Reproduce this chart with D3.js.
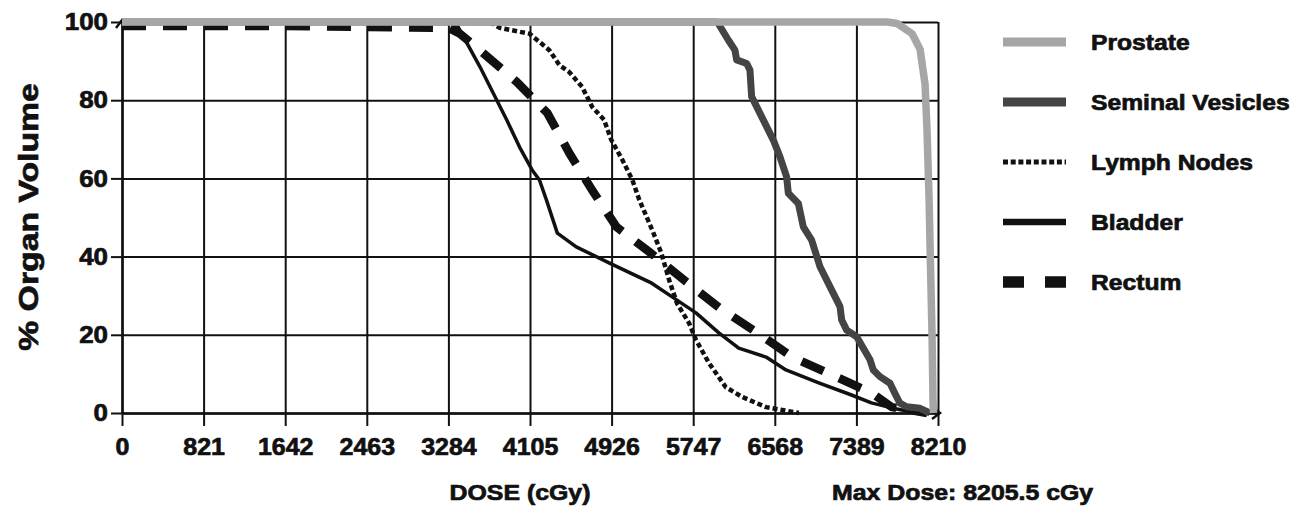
<!DOCTYPE html>
<html>
<head>
<meta charset="utf-8">
<script src="https://cdn.jsdelivr.net/npm/d3@7"></script>
<style>
  html, body { margin: 0; padding: 0; background: #fff; }
  svg { display: block; }
  text { font-family: "Liberation Sans", Arial, Helvetica, sans-serif; font-weight: bold; fill: #111; stroke: #111; stroke-width: 0.7px; }
</style>
</head>
<body>
<svg id="chart" width="1302" height="513"></svg>
<script>
// ---------------- DATA ----------------
const seriesNames = ["Prostate", "Seminal Vesicles", "Lymph Nodes", "Bladder", "Rectum"];

const xTickValues = [0, 821, 1642, 2463, 3284, 4105, 4926, 5747, 6568, 7389, 8210];
const xTickLabels = ["0", "821", "1642", "2463", "3284", "4105", "4926", "5747", "6568", "7389", "8210"];
const yTickValues = [0, 20, 40, 60, 80, 100];
const yTickLabels = ["0", "20", "40", "60", "80", "100"];

// [dose cGy, % organ volume]
const prostate = [[0,100],[7700,100],[7800,99.6],[7950,97],[8030,93],[8080,84],[8100,72],[8120,55],[8135,37],[8150,20],[8160,3],[8165,0]];
const seminalVesicles = [[0,100],[5990,100],[6100,95.4],[6167,92.8],[6184,90.3],[6285,89.4],[6318,87.7],[6335,80.9],[6553,69.8],[6620,65.5],[6687,60.4],[6704,56.2],[6805,53.6],[6855,47.6],[6939,44.2],[7023,37.4],[7157,30.6],[7224,27.2],[7241,23.8],[7291,21.2],[7392,19.5],[7526,13.6],[7559,11],[7626,9.3],[7727,7.6],[7777,5],[7827,2.5],[7895,1.6],[8029,1.2],[8129,0]];
const lymphNodes = [[0,100],[3700,100],[3800,98.5],[4100,97],[4300,92.8],[4400,89],[4500,87.2],[4630,83.4],[4730,78.3],[4850,75],[4920,70],[5035,64.7],[5135,59.6],[5205,54.5],[5335,46.8],[5425,41],[5505,34],[5585,28],[5705,23],[5775,18.7],[5905,12.8],[6075,6.6],[6240,4.1],[6480,1.5],[6810,0]];
const bladder = [[0,100],[3290,100],[3380,98.8],[3600,88.6],[3870,75],[4000,68],[4130,62],[4200,59.6],[4270,54.5],[4380,46],[4570,42.5],[4900,38.4],[5330,33.2],[5535,29.7],[5775,25.6],[6005,20.5],[6205,16.6],[6480,14.3],[6680,11],[7010,7.7],[7340,4.6],[7540,2.6],[7745,1.3],[8000,0]];
const rectum = [[0,99],[1600,99],[3284,98.5],[3400,97],[3600,92.8],[3970,84.7],[4280,76.7],[4500,66.5],[4730,57],[4975,47.6],[5305,41.2],[5680,33.5],[6010,26.9],[6380,20.7],[6745,14.3],[7145,9.7],[7545,5.1],[7745,1.5],[8100,0]];

const xTitle = "DOSE (cGy)";
const yTitle = "% Organ Volume";
const noteText = "Max Dose: 8205.5 cGy";

// ---------------- STYLES ----------------
const seriesData = [prostate, seminalVesicles, lymphNodes, bladder, rectum];
const plotStyles = [
  { stroke: "#a6a6a6", width: 7.5, dash: null, cap: "butt" },
  { stroke: "#444", width: 7, dash: null, cap: "butt" },
  { stroke: "#111", width: 4.5, dash: "5,3", cap: "butt" },
  { stroke: "#111", width: 3.5, dash: null, cap: "butt" },
  { stroke: "#111", width: 8.5, dash: "24,17", cap: "butt" }
];
const legendStyles = [
  { width: 9, dash: null },
  { width: 9, dash: null },
  { width: 5, dash: "5,2.7" },
  { width: 6.5, dash: null },
  { width: 11.5, dash: "21,21" }
];

// ---------------- CHART ----------------
const svg = d3.select("#chart");
const x = d3.scaleLinear().domain([0, 8210]).range([122, 938]);
const y = d3.scaleLinear().domain([0, 100]).range([413, 22]);
const plotH = y(0) - y(100);
const plotW = x(8210) - x(0);

// grid (vertical)
svg.append("g")
  .attr("transform", `translate(0,${y(0)})`)
  .call(d3.axisBottom(x).tickValues(xTickValues).tickSize(-plotH).tickFormat(""))
  .call(g => g.select(".domain").remove())
  .call(g => g.selectAll(".tick line").attr("stroke", "#111").attr("stroke-width", 2));
// grid (horizontal)
svg.append("g")
  .attr("transform", `translate(${x(0)},0)`)
  .call(d3.axisLeft(y).tickValues(yTickValues).tickSize(-plotW).tickFormat(""))
  .call(g => g.select(".domain").remove())
  .call(g => g.selectAll(".tick line").attr("stroke", "#111").attr("stroke-width", 2));

const fontFam = "'Liberation Sans', Arial, sans-serif";

// x axis with labels
const xAxis = svg.append("g")
  .attr("transform", `translate(0,${y(0)})`)
  .call(d3.axisBottom(x).tickValues(xTickValues).tickSize(13).tickSizeOuter(0).tickPadding(12)
    .tickFormat((d, i) => xTickLabels[i]));
xAxis.select(".domain").attr("stroke", "#111").attr("stroke-width", 2.5);
xAxis.selectAll(".tick line").attr("stroke", "#111").attr("stroke-width", 2);
xAxis.selectAll(".tick text").attr("font-size", 24).attr("fill", "#111")
  .attr("font-family", fontFam).attr("font-weight", "bold");

// y axis with labels
const yAxis = svg.append("g")
  .attr("transform", `translate(${x(0)},0)`)
  .call(d3.axisLeft(y).tickValues(yTickValues).tickSize(11).tickSizeOuter(0).tickPadding(3)
    .tickFormat((d, i) => yTickLabels[i]));
yAxis.select(".domain").attr("stroke", "#111").attr("stroke-width", 2.5);
yAxis.selectAll(".tick line").attr("stroke", "#111").attr("stroke-width", 2);
yAxis.selectAll(".tick text").attr("font-size", 24).attr("fill", "#111")
  .attr("font-family", fontFam).attr("font-weight", "bold");

// small arrowheads at axis ends
const ah = 6;
svg.append("path")
  .attr("d", `M${x(0) - ah},${y(100) + ah} L${x(0)},${y(100) - 2} L${x(0) + ah},${y(100) + ah}`)
  .attr("fill", "none").attr("stroke", "#111").attr("stroke-width", 2.5);
svg.append("path")
  .attr("d", `M${x(8210) - ah},${y(0) - ah} L${x(8210) + 2},${y(0)} L${x(8210) - ah},${y(0) + ah}`)
  .attr("fill", "none").attr("stroke", "#111").attr("stroke-width", 2.5);

// curves (draw in reverse legend order so Prostate is on top)
const line = d3.line().x(d => x(d[0])).y(d => y(d[1])).curve(d3.curveLinear);
const order = [4, 3, 2, 1, 0];
order.forEach(i => {
  const s = plotStyles[i];
  svg.append("path")
    .datum(seriesData[i])
    .attr("d", line)
    .attr("fill", "none")
    .attr("stroke", s.stroke)
    .attr("stroke-width", s.width)
    .attr("stroke-linejoin", "round")
    .attr("stroke-linecap", s.cap)
    .attr("stroke-dasharray", s.dash);
});

// legend
const legendRowY = d3.scalePoint().domain(seriesNames).range([42, 282]);
const legend = svg.append("g");
seriesNames.forEach((name, i) => {
  const ly = legendRowY(name);
  legend.append("line")
    .attr("x1", 1003).attr("x2", 1066).attr("y1", ly).attr("y2", ly)
    .attr("stroke", plotStyles[i].stroke)
    .attr("stroke-width", legendStyles[i].width)
    .attr("stroke-dasharray", legendStyles[i].dash);
  legend.append("text")
    .attr("class", "stretch-legend")
    .attr("x", 1091).attr("y", ly + 8)
    .attr("font-size", 22)
    .text(name);
});

// titles
svg.append("text").attr("class", "stretch-title")
  .attr("x", 520).attr("y", 500).attr("text-anchor", "middle").attr("font-size", 22)
  .text(xTitle);
svg.append("text").attr("class", "stretch-title")
  .attr("x", 832).attr("y", 500).attr("font-size", 22)
  .text(noteText);
svg.append("text").attr("class", "stretch-ytitle")
  .attr("transform", "translate(38,217) rotate(-90)")
  .attr("text-anchor", "middle").attr("font-size", 27)
  .text(yTitle);

// horizontal stretch of the (slightly widened) reference typography
function stretch(sel, f) {
  sel.each(function () {
    const L = this.getComputedTextLength();
    d3.select(this).attr("textLength", L * f).attr("lengthAdjust", "spacingAndGlyphs");
  });
}
stretch(svg.selectAll(".stretch-legend"), 1.12);
stretch(svg.selectAll(".stretch-title"), 1.13);
stretch(svg.selectAll(".stretch-ytitle"), 1.25);
stretch(xAxis.selectAll(".tick text"), 1.04);
stretch(yAxis.selectAll(".tick text"), 1.08);
</script>
</body>
</html>
